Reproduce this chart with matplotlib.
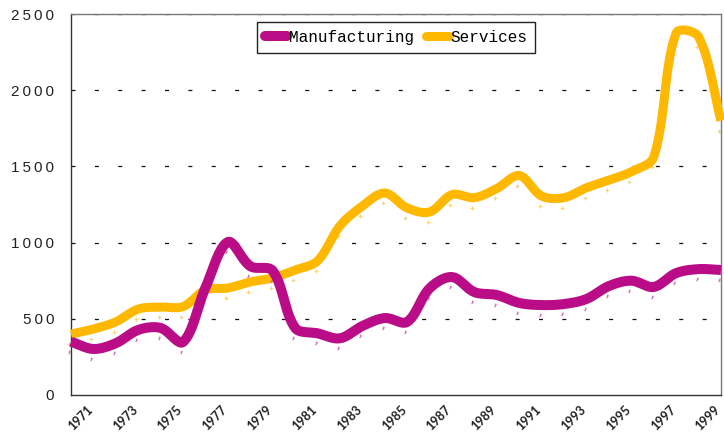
import numpy as np
import matplotlib
matplotlib.use("Agg")
import matplotlib.pyplot as plt
import matplotlib.transforms as mtransforms

# Data
years = list(range(1970, 2000))
manufacturing = [350, 302, 340, 427, 440, 348, 705, 1004, 845, 815,
                 440, 405, 372, 453, 505, 480, 700, 774, 675, 656,
                 604, 590, 597, 630, 715, 750, 709, 800, 826, 820]
services = [400, 433, 480, 564, 577, 580, 689, 702, 742, 768,
            820, 880, 1110, 1240, 1325, 1227, 1201, 1315, 1295, 1355,
            1440, 1305, 1295, 1360, 1410, 1465, 1562, 2375, 2350, 1800]
ytick_vals = [0, 500, 1000, 1500, 2000, 2500]
xtick_years = list(range(1971, 2000, 2))

magenta = "#BA0C86"
orange = "#FFB800"

# pixel scale of the plot area, used so the smoothing behaves like on screen
PX_X = 650 / 29
PX_Y = 381 / 2500


def smooth(x, y, n=24):
    # smoothed line: cubic Bezier pieces, tangents weighted by chord length
    pts = np.column_stack([np.asarray(x, float) * PX_X, np.asarray(y, float) * PX_Y])
    p = np.vstack([pts[0], pts, pts[-1]])
    d = np.r_[np.hypot(*np.diff(p, axis=0).T)]
    d[d == 0] = 1e-9
    t = np.linspace(0, 1, n)[:, None]
    out = []
    for i in range(1, len(p) - 2):
        p0, p1, p2, p3 = p[i - 1], p[i], p[i + 1], p[i + 2]
        d01, d12, d23 = d[i - 1], d[i], d[i + 1]
        c1 = p1 + (p2 - p0) * d12 / (d01 + d12) / 3
        c2 = p2 - (p3 - p1) * d12 / (d12 + d23) / 3
        seg = ((1 - t) ** 3) * p1 + 3 * ((1 - t) ** 2) * t * c1 + 3 * (1 - t) * t ** 2 * c2 + t ** 3 * p2
        out.append(seg if i == 1 else seg[1:])
    out = np.vstack(out)
    return out[:, 0] / PX_X, out[:, 1] / PX_Y


fig = plt.figure(figsize=(7.24, 4.41), dpi=100)
ax = fig.add_axes([71 / 724, 1 - 395 / 441, 650 / 724, 381 / 441])

# small data markers sit a little below the smoothed lines
mk_off = mtransforms.offset_copy(ax.transData, fig=fig, x=-2, y=-10, units="dots")

sx, sy = smooth(years, services)
ax.plot(sx, sy, color=orange, lw=6.5, solid_capstyle="butt", zorder=3, clip_on=False)
ax.plot(years, services, ls="none", marker="+", ms=3, mew=0.8, color="#FFD470",
        transform=mk_off, zorder=2, clip_on=False)

mx, my = smooth(years, manufacturing)
ax.plot(mx, my, color=magenta, lw=7.2, solid_capstyle="butt", zorder=5, clip_on=False)
ax.plot(years, manufacturing, ls="none", marker="$,$", ms=2.3, mew=0.2, color="#DA6CB8",
        transform=mk_off, zorder=4, clip_on=False)

# legend proxies
h1, = ax.plot([], [], color=magenta, lw=7.2, solid_capstyle="round")
h2, = ax.plot([], [], color=orange, lw=6.5, solid_capstyle="round")
leg = ax.legend([h1, h2], ["Manufacturing", "Services"], loc="upper center",
                bbox_to_anchor=(0.5, 1.0), ncol=2, frameon=True, fancybox=False,
                edgecolor="#222222", framealpha=1, handlelength=1.4, handletextpad=0.1,
                columnspacing=0.8, borderpad=0.5,
                prop={"family": ["Liberation Mono", "DejaVu Sans Mono"], "size": 11.5})
leg.get_frame().set_linewidth(1.0)
leg.set_zorder(10)

ax.set_xlim(1970, 1999)
ax.set_ylim(0, 2500)

for v in ytick_vals[1:]:
    ax.axhline(v, color="#111111", lw=0.9, ls=(0, (3.2, 15.5)), zorder=1)

ax.set_yticks(ytick_vals)
ax.set_yticklabels(["\u2009".join(str(v)) for v in ytick_vals],
                   family=["Liberation Sans", "DejaVu Sans"], fontsize=11, color="#222222")
ax.set_xticks(xtick_years)
ax.set_xticklabels([str(y) for y in xtick_years], rotation=45, ha="right", va="top",
                   rotation_mode="anchor", fontsize=9, fontweight="bold", color="#222222",
                   family=["Lato", "DejaVu Sans"])
ax.tick_params(axis="y", length=0, pad=12)
ax.tick_params(axis="x", length=0, pad=6)
for lbl in ax.get_xticklabels():
    lbl.set_transform(lbl.get_transform() + mtransforms.ScaledTranslation(-7 / 100, 0, fig.dpi_scale_trans))

for s in ax.spines.values():
    s.set_color("#333333")
    s.set_linewidth(1.0)
ax.spines["top"].set_color("#777777")
ax.spines["right"].set_color("#777777")

fig.savefig("out.png", dpi=100)
